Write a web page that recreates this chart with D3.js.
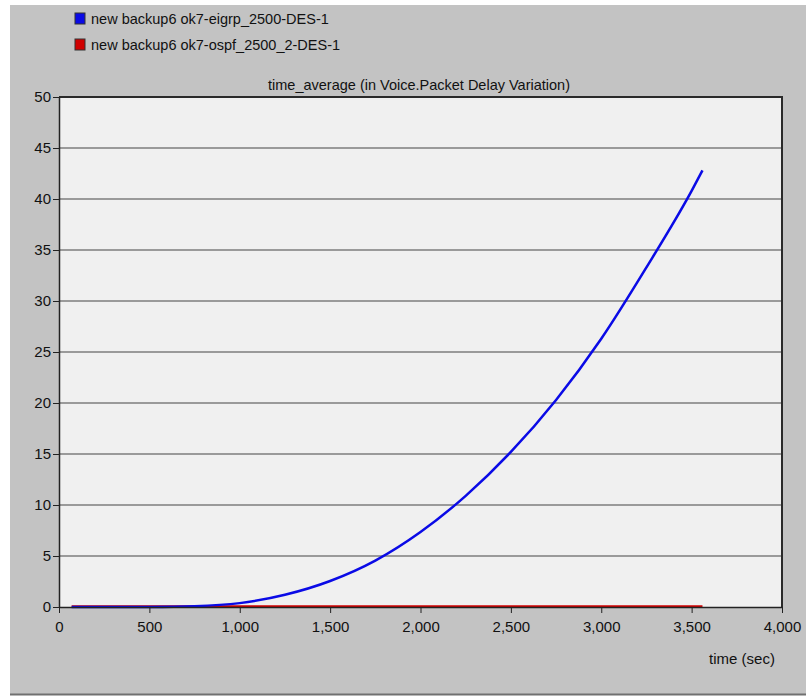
<!DOCTYPE html>
<html>
<head>
<meta charset="utf-8">
<script src="https://cdn.jsdelivr.net/npm/d3@7"></script>
<style>
  body { margin: 0; background: #fff; }
  text { font-family: "Liberation Sans", Arial, sans-serif; fill: #111; }
</style>
</head>
<body>
<div id="chart"></div>
<script>
// Chart size
const width = 806;
const height = 696;

// Data
const seriesNames = ["new backup6 ok7-eigrp_2500-DES-1", "new backup6 ok7-ospf_2500_2-DES-1"];
const seriesColors = ["#0a0ae6", "#d00000"];
const times = [70, 250, 500, 750, 1000, 1250, 1500, 1750, 2000, 2250, 2500, 2750, 3000, 3250, 3500, 3560];
const eigrpValues = [0, 0, 0.01, 0.08, 0.38, 1.2, 2.55, 4.55, 7.35, 10.9, 15.2, 20.3, 26.3, 33.3, 40.8, 42.8];
const ospfValues = [0.06, 0.06, 0.06, 0.06, 0.06, 0.06, 0.06, 0.06, 0.06, 0.06, 0.06, 0.06, 0.06, 0.06, 0.06, 0.06];
const xTicks = [0, 500, 1000, 1500, 2000, 2500, 3000, 3500, 4000];
const yTicks = [0, 5, 10, 15, 20, 25, 30, 35, 40, 45, 50];
const chartTitle = "time_average (in Voice.Packet Delay Variation)";
const xLabel = "time (sec)";

const margin = {top: 97, right: 24, bottom: 89, left: 59};

const svg = d3.select("#chart").append("svg")
    .attr("width", width)
    .attr("height", height);

// panel background
svg.append("rect").attr("width", width).attr("height", height).attr("fill", "#fff");
svg.append("rect").attr("x", 10).attr("y", 5).attr("width", width - 10).attr("height", 689).attr("fill", "#c3c3c3");
svg.append("line").attr("x1", 10).attr("x2", width).attr("y1", 694.5).attr("y2", 694.5)
    .attr("stroke", "#707070").attr("stroke-width", 2);

const x = d3.scaleLinear().domain([0, 4000]).range([margin.left, width - margin.right]);
const y = d3.scaleLinear().domain([0, 50]).range([height - margin.bottom, margin.top]);

// plot area
svg.append("rect")
    .attr("x", x(0)).attr("y", y(50))
    .attr("width", x(4000) - x(0)).attr("height", y(0) - y(50))
    .attr("fill", "#f0f0f0");

// grid lines
svg.append("g")
    .selectAll("line")
    .data(yTicks.filter(d => d > 0 && d < 50))
    .enter().append("line")
    .attr("x1", x(0)).attr("x2", x(4000))
    .attr("y1", d => y(d)).attr("y2", d => y(d))
    .attr("stroke", "#9a9a9a")
    .attr("stroke-width", 2);

// frame top and right
svg.append("path")
    .attr("d", `M${x(0)},${y(50)}H${x(4000)}V${y(0)}`)
    .attr("fill", "none")
    .attr("stroke", "#2a2a2a")
    .attr("stroke-width", 2);

// lines
const line = d3.line()
    .x(d => x(d[0]))
    .y(d => y(d[1]))
    .curve(d3.curveMonotoneX);

svg.append("path")
    .datum(times.map((t, i) => [t, ospfValues[i]]))
    .attr("d", line)
    .attr("fill", "none")
    .attr("stroke", seriesColors[1])
    .attr("stroke-width", 2.5);

svg.append("path")
    .datum(times.map((t, i) => [t, eigrpValues[i]]))
    .attr("d", line)
    .attr("fill", "none")
    .attr("stroke", seriesColors[0])
    .attr("stroke-width", 2.5);

// axes
const xAxis = svg.append("g")
    .attr("transform", `translate(0,${y(0)})`)
    .call(d3.axisBottom(x).tickValues(xTicks).tickSize(6).tickSizeOuter(0).tickFormat(d3.format(",")));
const yAxis = svg.append("g")
    .attr("transform", `translate(${x(0)},0)`)
    .call(d3.axisLeft(y).tickValues(yTicks).tickSize(6).tickSizeOuter(0));

[xAxis, yAxis].forEach(g => {
    g.select(".domain").attr("stroke", "#222").attr("stroke-width", 1.5);
    g.selectAll(".tick line").attr("stroke", "#222");
    g.selectAll(".tick text").attr("font-size", 15).attr("fill", "#111")
        .style("font-family", "'Liberation Sans', Arial, sans-serif");
});
xAxis.selectAll(".tick text").attr("dy", "1.05em");
yAxis.selectAll(".tick text").attr("x", -8);

// titles
svg.append("text")
    .attr("x", 419).attr("y", 90)
    .attr("text-anchor", "middle")
    .attr("font-size", 14.5)
    .text(chartTitle);

svg.append("text")
    .attr("x", 742).attr("y", 664)
    .attr("text-anchor", "middle")
    .attr("font-size", 15)
    .text(xLabel);

// legend
const legend = svg.append("g")
    .selectAll("g")
    .data(seriesNames)
    .enter().append("g")
    .attr("transform", (d, i) => `translate(75,${13 + i * 26})`);

legend.append("rect")
    .attr("width", 10).attr("height", 11)
    .attr("fill", (d, i) => seriesColors[i])
    .attr("stroke", "#333");

legend.append("text")
    .attr("x", 16).attr("y", 11)
    .attr("font-size", 14.5)
    .text(d => d);
</script>
</body>
</html>
